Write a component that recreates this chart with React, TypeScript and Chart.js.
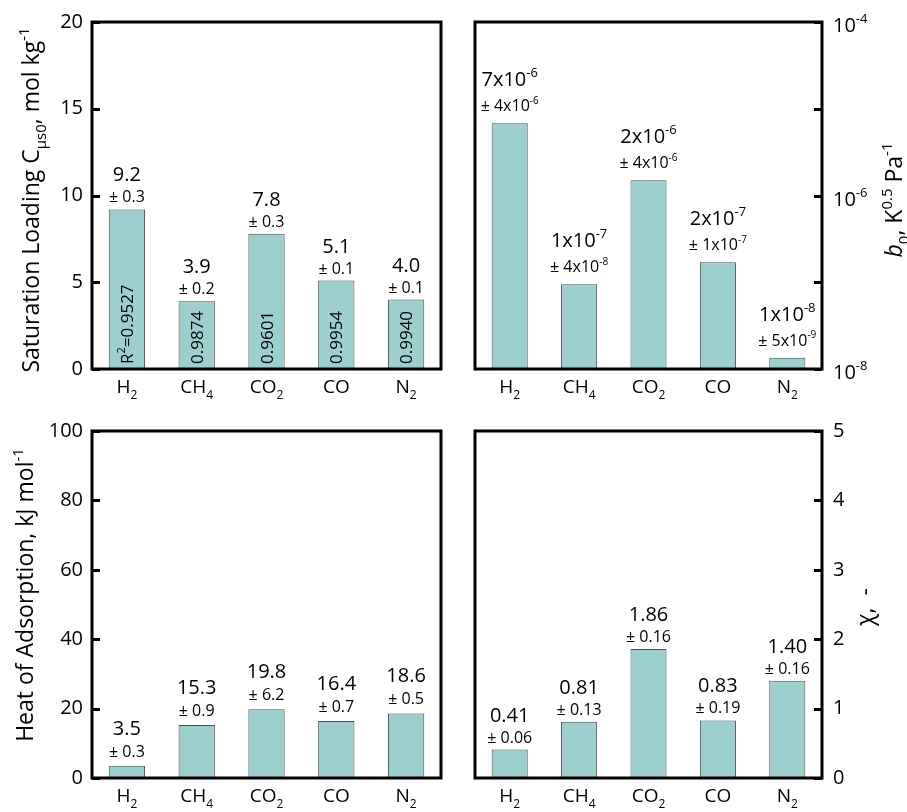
import React, { useEffect, useRef } from "react";
import { Chart, registerables } from "chart.js";

Chart.register(...registerables);

// ---------- data ----------
const categories = ["H2", "CH4", "CO2", "CO", "N2"];

const satLoading = [9.2, 3.9, 7.8, 5.1, 4.0];
const satErr = ["0.3", "0.2", "0.3", "0.1", "0.1"];
const r2Labels = ["R^{2}=0.9527", "0.9874", "0.9601", "0.9954", "0.9940"];

const b0Values = [6.8e-6, 9.5e-8, 1.5e-6, 1.7e-7, 1.35e-8];
const b0Text = ["7x10^{-6}", "1x10^{-7}", "2x10^{-6}", "2x10^{-7}", "1x10^{-8}"];
const b0Err = ["4x10^{-6}", "4x10^{-8}", "4x10^{-6}", "1x10^{-7}", "5x10^{-9}"];
const b0Decades = [1e-8, 1e-7, 1e-6, 1e-5, 1e-4];
const b0LabelledExp = [-8, -6, -4];

const heatValues = [3.5, 15.3, 19.8, 16.4, 18.6];
const heatErr = ["0.3", "0.9", "6.2", "0.7", "0.5"];

const chiValues = [0.41, 0.81, 1.86, 0.83, 1.4];
const chiErr = ["0.06", "0.13", "0.16", "0.19", "0.16"];

// ---------- style ----------
const FONT = '"Open Sans", "DejaVu Sans", sans-serif';
const BAR = "#9dcfcf";
const EDGE = "#4d4d4d";
const INK = "#000000";

type Seg = { t: string; k?: "sub" | "sup"; it?: boolean };

function parseRich(s: string): Seg[] {
  const out: Seg[] = [];
  let i = 0;
  let buf = "";
  while (i < s.length) {
    const c = s[i];
    if ((c === "_" || c === "^" || c === "*") && s[i + 1] === "{") {
      if (buf) {
        out.push({ t: buf });
        buf = "";
      }
      const end = s.indexOf("}", i + 2);
      const inner = s.slice(i + 2, end);
      if (c === "_") out.push({ t: inner, k: "sub" });
      else if (c === "^") out.push({ t: inner, k: "sup" });
      else out.push({ t: inner, it: true });
      i = end + 1;
    } else {
      buf += c;
      i++;
    }
  }
  if (buf) out.push({ t: buf });
  return out;
}

function drawRich(
  ctx: CanvasRenderingContext2D,
  str: string,
  x: number,
  y: number,
  size: number,
  align: "left" | "center" | "right",
  rot = 0
) {
  const segs = parseRich(str);
  const fontFor = (seg: Seg) =>
    `${seg.it ? "italic " : ""}${seg.k ? Math.round(size * 0.65) : size}px ${FONT}`;
  const widths: number[] = [];
  let total = 0;
  for (const seg of segs) {
    ctx.font = fontFor(seg);
    const w = ctx.measureText(seg.t).width;
    widths.push(w);
    total += w;
  }
  ctx.save();
  ctx.translate(x, y);
  ctx.rotate(rot);
  ctx.fillStyle = INK;
  ctx.textAlign = "left";
  ctx.textBaseline = "alphabetic";
  let cx = align === "left" ? 0 : align === "center" ? -total / 2 : -total;
  segs.forEach((seg, i) => {
    ctx.font = fontFor(seg);
    const dy = seg.k === "sub" ? size * 0.3 : seg.k === "sup" ? -size * 0.45 : 0;
    ctx.fillText(seg.t, cx, dy);
    cx += widths[i];
  });
  ctx.restore();
}

const chem = (s: string) => s.replace(/(\d+)/g, "_{$1}");

type Panel = {
  key: string;
  x: number;
  y: number;
  w: number;
  h: number;
  padL: number;
  padR: number;
  padT: number;
  yw: number;
  xh: number;
  side: "left" | "right";
  log?: boolean;
  min: number;
  max: number;
  step?: number;
  values: number[];
  nums: string[];
  errs: string[];
  numSize: number;
  errSize: number;
  numGap: number;
  errGap: number;
  title: string;
  titleX: number;
  titleY: number;
  titleSize: number;
  inner?: string[];
};

const PANELS: Panel[] = [
  {
    key: "sat",
    x: 0, y: 0, w: 450, h: 400,
    padL: 0, padR: 9, padT: 22, yw: 92, xh: 31,
    side: "left", min: 0, max: 20, step: 5,
    values: satLoading,
    nums: satLoading.map((v) => v.toFixed(1)),
    errs: satErr,
    numSize: 20, errSize: 16, numGap: 28, errGap: 7,
    title: "Saturation Loading C_{μs0}, mol kg^{-1}",
    titleX: 39, titleY: 200, titleSize: 23,
    inner: r2Labels,
  },
  {
    key: "b0",
    x: 450, y: 0, w: 457, h: 400,
    padL: 25, padR: 0, padT: 22, yw: 85, xh: 31,
    side: "right", log: true, min: 1e-8, max: 1e-4,
    values: b0Values,
    nums: b0Text,
    errs: b0Err,
    numSize: 20, errSize: 16, numGap: 37, errGap: 12,
    title: "*{b}_{0}, K^{0.5} Pa^{-1}",
    titleX: 452, titleY: 200, titleSize: 23,
  },
  {
    key: "heat",
    x: 0, y: 400, w: 450, h: 412,
    padL: 0, padR: 9, padT: 31, yw: 92, xh: 34,
    side: "left", min: 0, max: 100, step: 20,
    values: heatValues,
    nums: heatValues.map((v) => v.toFixed(1)),
    errs: heatErr,
    numSize: 20, errSize: 16, numGap: 31, errGap: 9,
    title: "Heat of Adsorption, kJ mol^{-1}",
    titleX: 33, titleY: 195, titleSize: 23,
  },
  {
    key: "chi",
    x: 450, y: 400, w: 457, h: 412,
    padL: 25, padR: 0, padT: 31, yw: 85, xh: 34,
    side: "right", min: 0, max: 5, step: 1,
    values: chiValues,
    nums: chiValues.map((v) => v.toFixed(2)),
    errs: chiErr,
    numSize: 20, errSize: 16, numGap: 28, errGap: 7,
    title: "χ,  -",
    titleX: 423, titleY: 207, titleSize: 23,
  },
];

function makePlugin(p: Panel) {
  return {
    id: "panel_" + p.key,
    afterDatasetsDraw(chart: any) {
      const ctx: CanvasRenderingContext2D = chart.ctx;
      const a = chart.chartArea;
      const ys = chart.scales.y;
      const xs = chart.scales.x;

      // frame
      ctx.save();
      ctx.strokeStyle = "#000";
      ctx.lineWidth = 3;
      ctx.strokeRect(a.left, a.top, a.right - a.left, a.bottom - a.top);

      // inward tick marks
      const tickVals: number[] = p.log ? b0Decades : ys.ticks.map((t: any) => t.value);
      ctx.beginPath();
      for (const v of tickVals) {
        const py = Math.round(ys.getPixelForValue(v)) + 0.5;
        if (p.side === "left") {
          ctx.moveTo(a.left, py);
          ctx.lineTo(a.left + 8, py);
        } else {
          ctx.moveTo(a.right - 8, py);
          ctx.lineTo(a.right, py);
        }
      }
      ctx.stroke();
      ctx.restore();

      // log tick labels
      if (p.log) {
        for (const e of b0LabelledExp) {
          const py = ys.getPixelForValue(Math.pow(10, e));
          drawRich(ctx, "10^{" + e + "}", a.right + 11, py + 10, 20, "left");
        }
      }

      // category labels
      categories.forEach((c, i) => {
        const px = xs.getPixelForValue(i);
        drawRich(ctx, chem(c), px, a.bottom + 24, 19, "center");
      });

      // value labels
      const meta = chart.getDatasetMeta(0);
      meta.data.forEach((bar: any, i: number) => {
        const top = bar.y;
        drawRich(ctx, p.nums[i], bar.x, top - p.numGap, p.numSize, "center");
        drawRich(ctx, "± " + p.errs[i], bar.x, top - p.errGap, p.errSize, "center");
        if (p.inner) {
          drawRich(ctx, p.inner[i], bar.x + 6, a.bottom - 5, 17, "left", -Math.PI / 2);
        }
      });

      // axis title
      drawRich(ctx, p.title, p.titleX, p.titleY, p.titleSize, "center", -Math.PI / 2);
    },
  };
}

function makeConfig(p: Panel): any {
  const yScale: any = p.log
    ? {
        type: "logarithmic",
        position: "right",
        min: p.min,
        max: p.max,
        grid: { display: false, drawTicks: false },
        border: { display: false },
        ticks: { display: false },
        afterBuildTicks: (s: any) => {
          s.ticks = b0Decades.map((v) => ({ value: v }));
        },
        afterFit: (s: any) => {
          s.width = p.yw;
        },
      }
    : {
        type: "linear",
        position: p.side,
        min: p.min,
        max: p.max,
        grid: { display: false, drawTicks: false },
        border: { display: false },
        ticks: {
          stepSize: p.step,
          color: INK,
          font: { family: FONT, size: 20 },
          padding: p.side === "left" ? 9 : 11,
        },
        afterFit: (s: any) => {
          s.width = p.yw;
        },
      };
  return {
    type: "bar",
    data: {
      labels: categories,
      datasets: [
        {
          data: p.values,
          backgroundColor: BAR,
          borderColor: EDGE,
          borderWidth: 1,
          barPercentage: 0.52,
          categoryPercentage: 1,
        },
      ],
    },
    options: {
      animation: false,
      responsive: false,
      maintainAspectRatio: false,
      devicePixelRatio: 1,
      layout: { padding: { left: p.padL, right: p.padR, top: p.padT, bottom: 0 } },
      plugins: { legend: { display: false }, tooltip: { enabled: false } },
      scales: {
        x: {
          grid: { display: false, drawTicks: false },
          border: { display: false },
          ticks: { display: false },
          afterFit: (s: any) => {
            s.height = p.xh;
          },
        },
        y: yScale,
      },
    },
    plugins: [makePlugin(p)],
  };
}

export default function App() {
  const r0 = useRef<HTMLCanvasElement>(null);
  const r1 = useRef<HTMLCanvasElement>(null);
  const r2 = useRef<HTMLCanvasElement>(null);
  const r3 = useRef<HTMLCanvasElement>(null);
  const refs = [r0, r1, r2, r3];

  useEffect(() => {
    const charts = PANELS.map((p, i) => new Chart(refs[i].current as HTMLCanvasElement, makeConfig(p)));
    return () => charts.forEach((c) => c.destroy());
  }, []);

  return (
    <div style={{ position: "absolute", left: 0, top: 0, width: 907, height: 812, background: "#fff" }}>
      {PANELS.map((p, i) => (
        <canvas
          key={p.key}
          ref={refs[i]}
          width={p.w}
          height={p.h}
          style={{ position: "absolute", left: p.x, top: p.y, width: p.w, height: p.h }}
        />
      ))}
    </div>
  );
}
